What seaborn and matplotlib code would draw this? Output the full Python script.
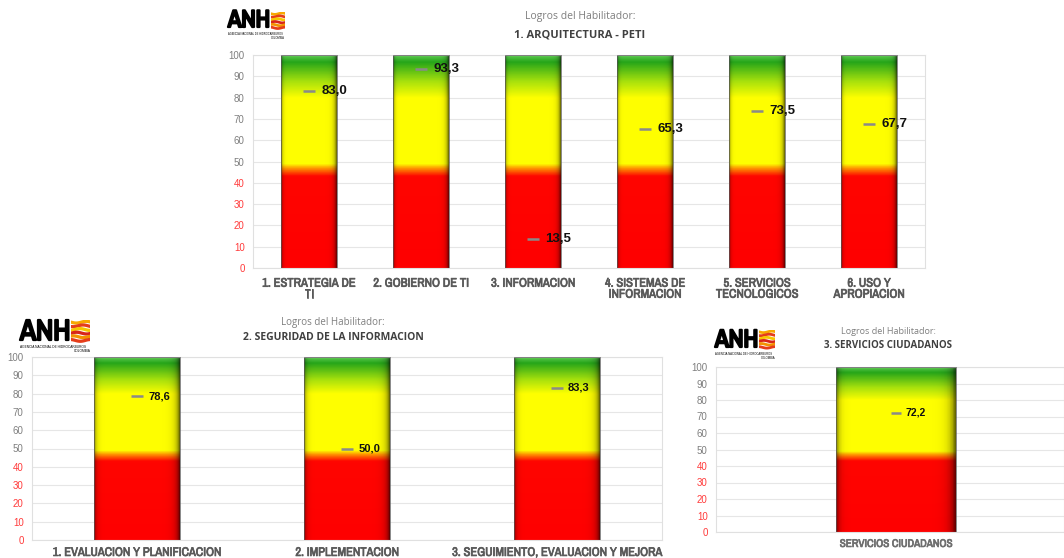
"""
Logros del Habilitador: tres paneles tipo semáforo (rojo / amarillo / verde)
con el valor alcanzado marcado sobre cada barra.
"""
import numpy as np
import matplotlib
matplotlib.use('Agg')
import matplotlib.pyplot as plt
import matplotlib.patheffects as pe
from matplotlib import font_manager
from matplotlib.colors import LinearSegmentedColormap
import seaborn as sns

# ── Datos ─────────────────────────────────────────────────────────────────────
ARQ_CATS = ['1. ESTRATEGIA DE\nTI', '2. GOBIERNO DE TI', '3. INFORMACION',
            '4. SISTEMAS DE\nINFORMACION', '5. SERVICIOS\nTECNOLOGICOS',
            '6. USO Y\nAPROPIACION']
ARQ_VALS = [83.0, 93.3, 13.5, 65.3, 73.5, 67.7]

SEG_CATS = ['1. EVALUACION Y PLANIFICACION', '2. IMPLEMENTACION',
            '3. SEGUIMIENTO, EVALUACION Y MEJORA']
SEG_VALS = [78.6, 50.0, 83.3]

CIU_CATS = ['SERVICIOS CIUDADANOS']
CIU_VALS = [72.2]

GAUGE_MAX = 100
Y_TICKS = [0, 10, 20, 30, 40, 50, 60, 70, 80, 90, 100]

TITLES = ['1. ARQUITECTURA - PETI', '2. SEGURIDAD DE LA INFORMACION',
          '3. SERVICIOS CIUDADANOS']
SUBTITLE = 'Logros del Habilitador:'

W, H = 1064, 558
TITLE_FONT = ['Open Sans', 'DejaVu Sans']

_names = sorted({f.name for f in font_manager.fontManager.ttflist})
_narrow = [n for n in _names if 'Narrow' in n or 'Condensed' in n]
NARROW = [_narrow[0], 'DejaVu Sans'] if _narrow else ['DejaVu Sans']

# semáforo vertical
CMAP = LinearSegmentedColormap.from_list('semaforo', [
    (0.00, (1.00, 0.00, 0.00)),
    (0.43, (1.00, 0.02, 0.00)),
    (0.46, (1.00, 0.45, 0.00)),
    (0.49, (1.00, 1.00, 0.00)),
    (0.80, (1.00, 1.00, 0.00)),
    (0.88, (0.65, 0.88, 0.05)),
    (0.97, (0.15, 0.65, 0.10)),
    (1.00, (0.35, 0.78, 0.30)),
])


def _px_axes(fig, left, top, right, bottom):
    return fig.add_axes([left / W, 1 - bottom / H, (right - left) / W, (bottom - top) / H])


def _gradient_img():
    v = np.linspace(0, 1, 400)[:, None]
    rgb = CMAP(v)[:, :, :3] * np.ones((1, 80, 1))
    u = np.linspace(0, 1, 80)
    shade = 1 - 0.45 * np.exp(-u / 0.025) - 0.6 * np.exp(-(1 - u) / 0.04)
    return np.clip(rgb * shade[None, :, None], 0, 1)


IMG = _gradient_img()


def _bold(color, lw):
    return [pe.withStroke(linewidth=lw, foreground=color)]


def gauge_panel(ax, cats, vals, width, fs_x, fs_lbl, lbl_off, ms, pad, xcol, xlim=None):
    sns.barplot(x=cats, y=[GAUGE_MAX] * len(cats), width=width, color='red', ax=ax, zorder=2)
    for p in ax.patches:
        x0, y0 = p.get_x(), p.get_y()
        im = ax.imshow(IMG, extent=[x0, x0 + p.get_width(), y0, y0 + p.get_height()],
                       origin='lower', aspect='auto', zorder=2)
        im.set_clip_path(p)
        p.set_facecolor('none')
        p.set_edgecolor('#5a5a5a')
        p.set_linewidth(0.5)
        p.set_zorder(3)

    ax.plot(range(len(cats)), vals, ls='none', marker='_', ms=ms, mew=1.8,
            color='#8a8a8a', zorder=4)
    for i, v in enumerate(vals):
        ax.annotate(f'{v:.1f}'.replace('.', ','), (i, v), xytext=(lbl_off, 0),
                    textcoords='offset points', va='center', ha='left',
                    fontsize=fs_lbl, fontweight='bold', color='#111111', zorder=5)

    ax.set_ylim(0, GAUGE_MAX)
    ax.set_xlim(xlim if xlim else (-0.5, len(cats) - 0.5))
    ax.set_yticks(Y_TICKS)
    ax.set_yticklabels([str(t) for t in Y_TICKS])
    for t, lab in zip(Y_TICKS, ax.get_yticklabels()):
        lab.set_color('#ff3b3b' if t < 50 else '#7f7f7f')
    ax.tick_params(axis='y', length=0, labelsize=7, pad=6)
    ax.tick_params(axis='x', length=0, pad=pad)
    for lab in ax.get_xticklabels():
        lab.set_fontfamily(NARROW)
        lab.set_fontsize(fs_x)
        lab.set_color(xcol)
        lab.set_linespacing(1.0)
        lab.set_path_effects(_bold(xcol, 0.5))
    ax.set_xlabel('')
    ax.set_ylabel('')
    ax.grid(axis='y', color='#e6e6e6', linewidth=0.8, zorder=0)
    ax.set_axisbelow(True)
    for s in ax.spines.values():
        s.set_color('#e0e0e0')
        s.set_linewidth(0.8)


def draw_logo(fig, x, y, size, stripe_w):
    """ANH con franjas; x, y = esquina superior izquierda en píxeles."""
    t = fig.text(x / W, 1 - y / H, 'ANH', fontsize=size, family=NARROW,
                 color='black', va='top', ha='left', path_effects=_bold('black', 1.6))
    bb = t.get_window_extent(renderer=fig.canvas.get_renderer())
    x_end = bb.x1 + 1
    top_px = H - bb.y1 + 2
    hgt = bb.height * 0.85
    sax = fig.add_axes([x_end / W, 1 - (top_px + hgt) / H, stripe_w / W, hgt / H])
    sax.set_axis_off()
    cols = ['#f7a800', '#e53d1a', '#f7c600', '#d8261a', '#f39200', '#e53d1a']
    xs = np.linspace(0, 1, 20)
    for k, c in enumerate(cols):
        sax.plot(xs, 0.95 - k / 6 - 0.04 * np.sin(xs * 6 + k), color=c, lw=size / 9)
    sax.set_xlim(0, 1)
    sax.set_ylim(0, 1.05)
    fig.text(x / W, 1 - (top_px + hgt + 2) / H, 'AGENCIA NACIONAL DE HIDROCARBUROS',
             fontsize=size * 0.11, color='black', va='top', ha='left')
    fig.text((x_end + stripe_w) / W, 1 - (top_px + hgt + 6) / H, 'COLOMBIA',
             fontsize=size * 0.11, color='black', va='top', ha='right')


def titles(fig, xc, y1, y2, title, fs):
    fig.text(xc / W, 1 - y1 / H, SUBTITLE, ha='center', va='center',
             fontsize=fs - 0.5, color='#7f7f7f', family=TITLE_FONT)
    fig.text(xc / W, 1 - y2 / H, title, ha='center', va='center',
             fontsize=fs, fontweight='bold', color='#404040', family=TITLE_FONT)


sns.set_theme(style='white')
plt.rcParams['font.family'] = ['Liberation Sans', 'DejaVu Sans']

fig = plt.figure(figsize=(W / 100, H / 100), dpi=100)

ax1 = _px_axes(fig, 253, 55, 925, 268)
gauge_panel(ax1, ARQ_CATS, ARQ_VALS, 0.5, 9, 9.5, 9, 9, 7, '#595959')

ax2 = _px_axes(fig, 32, 357, 662, 540)
gauge_panel(ax2, SEG_CATS, SEG_VALS, 0.405, 9, 8, 8, 8, 5, '#595959')

ax3 = _px_axes(fig, 716, 367, 1064, 532)
gauge_panel(ax3, CIU_CATS, CIU_VALS, 0.333, 8, 7.5, 7, 7, 5, '#6e6e6e',
            xlim=(-0.5, 0.467))

titles(fig, 580, 17, 35, TITLES[0], 8)
titles(fig, 333, 322, 337, TITLES[1], 7.5)
titles(fig, 888, 332, 345, TITLES[2], 7)

draw_logo(fig, 228, 10, 17.5, 14)
draw_logo(fig, 20, 318, 21, 19)
draw_logo(fig, 715, 328, 18, 16)

fig.savefig('out.png', dpi=100, facecolor='white')
